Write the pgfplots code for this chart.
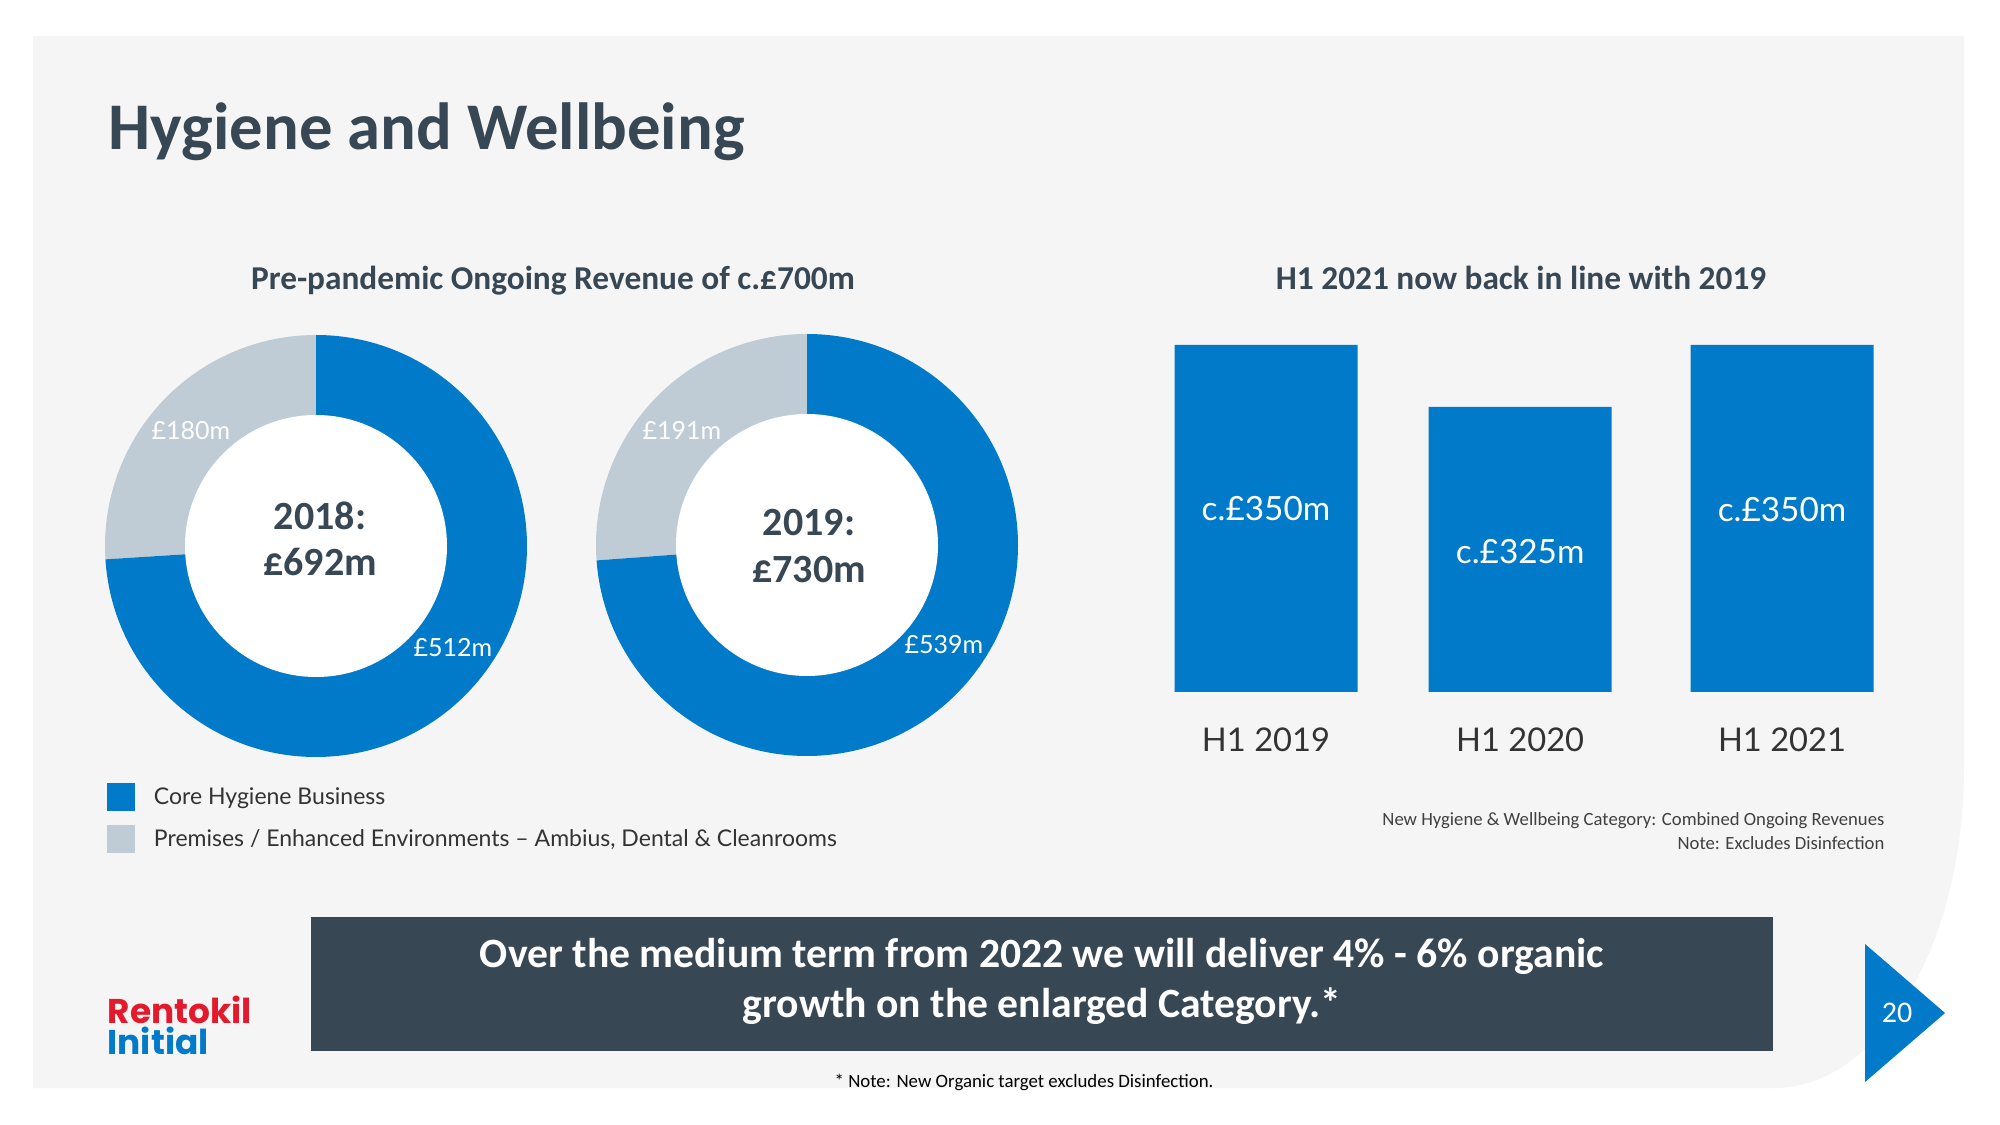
\documentclass[border=0pt]{standalone}
\usepackage{pgfplots}
\pgfplotsset{compat=1.18}
\usepackage{fontspec}
\setmainfont{Carlito}
\newfontfamily\lato{Lato}
\newfontfamily\pop{Poppins}
\definecolor{blueC}{RGB}{0,122,201}
\definecolor{greyC}{RGB}{191,204,214}
\definecolor{darkC}{RGB}{55,71,84}
\definecolor{panelC}{RGB}{245,245,245}
\definecolor{redC}{RGB}{226,26,44}
\definecolor{tickC}{RGB}{51,51,51}
\definecolor{noteC}{RGB}{64,64,64}
\begin{document}
\begin{tikzpicture}[x=0.3pt,y=-0.3pt]
\useasboundingbox (0,0) rectangle (2000,1125);
\fill[white] (0,0) rectangle (2000,1125);
% panel
\fill[panelC] (33,36) -- (1964,36) -- (1964,768) arc[start angle=0,end angle=90,x radius=190,y radius=320] -- (33,1088) -- cycle;
% title
\node[anchor=base west, inner sep=0, text=darkC, font=\bfseries\fontsize{20}{24}\selectfont] at (108,150) {Hygiene and Wellbeing};
\node[anchor=base, inner sep=0, text=darkC, font=\bfseries\fontsize{10}{12}\selectfont] at (553,290) {Pre-pandemic Ongoing Revenue of c.£700m};
\node[anchor=base, inner sep=0, text=darkC, font=\bfseries\fontsize{10}{12}\selectfont] at (1521,290) {H1 2021 now back in line with 2019};

% donut 2018
\pgfmathsetmacro{\angA}{90+360*(180/(180+512))}
\pgfmathsetmacro{\angB}{90+360*(191/(191+539))}
\begin{axis}[at={(94.8pt,-163.8pt)}, anchor=center, x=0.3pt, y=0.3pt,
  xmin=-220, xmax=220, ymin=-220, ymax=220, hide axis, clip=false,
  legend style={at={(axis description cs:0.025,-0.0386)}, anchor=north west, draw=none, fill=none,
    inner sep=0pt, outer sep=0pt, row sep=4.2pt, column sep=5.7pt,
    font=\lato\fontsize{6.9}{8.2}\selectfont, text=tickC, nodes={inner sep=0pt, anchor=west, yshift=-0.4pt}},
  legend cell align=left,
  legend image code/.code={\fill (0pt,-4.2pt) rectangle (8.4pt,4.2pt);}]
\addlegendimage{fill=blueC, draw=none}
\addlegendentry{Core Hygiene Business}
\addlegendimage{fill=greyC, draw=none}
\addlegendentry{Premises / Enhanced Environments – Ambius, Dental \& Cleanrooms}
\fill[greyC] (axis cs:0,0) -- ++(90:63.3pt) arc[start angle=90, end angle=\angA, radius=63.3pt] -- cycle;
\fill[blueC] (axis cs:0,0) -- ++(\angA:63.3pt) arc[start angle=\angA, end angle=450, radius=63.3pt] -- cycle;
\fill[white] (axis cs:0,0) circle[radius=39.3pt];
\node[text=white, font=\lato\fontsize{7.5}{9}\selectfont] at (axis cs:-125,115) {£180m};
\node[text=white, font=\lato\fontsize{7.5}{9}\selectfont] at (axis cs:137,-102) {£512m};
\node[text=darkC, font=\bfseries\fontsize{12}{14}\selectfont] at (axis cs:4,30) {2018:};
\node[text=darkC, font=\bfseries\fontsize{12}{14}\selectfont] at (axis cs:4,-16) {£692m};
\end{axis}

% donut 2019
\begin{axis}[at={(242.1pt,-163.5pt)}, anchor=center, x=0.3pt, y=0.3pt,
  xmin=-220, xmax=220, ymin=-220, ymax=220, hide axis, clip=false]
\fill[greyC] (axis cs:0,0) -- ++(90:63.3pt) arc[start angle=90, end angle=\angB, radius=63.3pt] -- cycle;
\fill[blueC] (axis cs:0,0) -- ++(\angB:63.3pt) arc[start angle=\angB, end angle=450, radius=63.3pt] -- cycle;
\fill[white] (axis cs:0,0) circle[radius=39.3pt];
\node[text=white, font=\lato\fontsize{7.5}{9}\selectfont] at (axis cs:-125,115) {£191m};
\node[text=white, font=\lato\fontsize{7.5}{9}\selectfont] at (axis cs:137,-100) {£539m};
\node[text=darkC, font=\bfseries\fontsize{12}{14}\selectfont] at (axis cs:2,22) {2019:};
\node[text=darkC, font=\bfseries\fontsize{12}{14}\selectfont] at (axis cs:2,-25) {£730m};
\end{axis}

% bars
\begin{axis}[at={(333.36pt,-207.6pt)}, anchor=south west, x=77.4pt, y=0.744pt,
  xmin=-0.6, xmax=2.6, ymin=210, ymax=360, enlargelimits=false,
  ybar, bar width=54.9pt,
  axis line style={draw=none}, tick style={draw=none}, ytick=\empty,
  xtick={0,0.985,2}, xticklabels={H1 2019,H1 2020,H1 2021},
  xticklabel style={anchor=center, yshift=-10.2pt, text=tickC, font=\lato\fontsize{9.8}{12}\selectfont}]
\addplot[fill=blueC, draw=none] coordinates {(0,350) (0.985,325) (2,350)};
\node[text=white, font=\lato\fontsize{10}{12}\selectfont] at (axis cs:0,283.8) {c.£350m};
\node[text=white, font=\lato\fontsize{10}{12}\selectfont] at (axis cs:0.985,266.5) {c.£325m};
\node[text=white, font=\lato\fontsize{10}{12}\selectfont] at (axis cs:2,283.4) {c.£350m};
\end{axis}

% notes
\node[anchor=east, inner sep=0, text=noteC, font=\fontsize{5.6}{6.7}\selectfont] at (1885,821) {New Hygiene \& Wellbeing Category: Combined Ongoing Revenues};
\node[anchor=east, inner sep=0, text=noteC, font=\fontsize{5.6}{6.7}\selectfont] at (1885,843) {Note: Excludes Disinfection};

% banner
\fill[darkC] (311,917) rectangle (1773,1051);
\node[anchor=base, inner sep=0, text=white, font=\bfseries\fontsize{12.5}{14}\selectfont] at (1042,967) {Over the medium term from 2022 we will deliver 4\% - 6\% organic};
\node[anchor=base, inner sep=0, text=white, font=\bfseries\fontsize{12.5}{14}\selectfont] at (1042,1017) {growth on the enlarged Category.*};

% footnote
\node[inner sep=0, text=black, font=\fontsize{5.65}{6.5}\selectfont] at (1024,1082) {* Note: New Organic target excludes Disinfection.};

% logo
\node[anchor=west, inner sep=0, text=redC, font=\pop\bfseries\fontsize{10.3}{12}\selectfont] at (107,1010) {Rentokil};
\node[anchor=west, inner sep=0, text=blueC, font=\pop\bfseries\fontsize{10.3}{12}\selectfont] at (107,1041) {Initial};

% page number
\fill[blueC] (1865,944) -- (1945,1013) -- (1865,1082) -- cycle;
\node[text=white, font=\fontsize{9}{11}\selectfont] at (1897,1013) {20};
\end{tikzpicture}
\end{document}
